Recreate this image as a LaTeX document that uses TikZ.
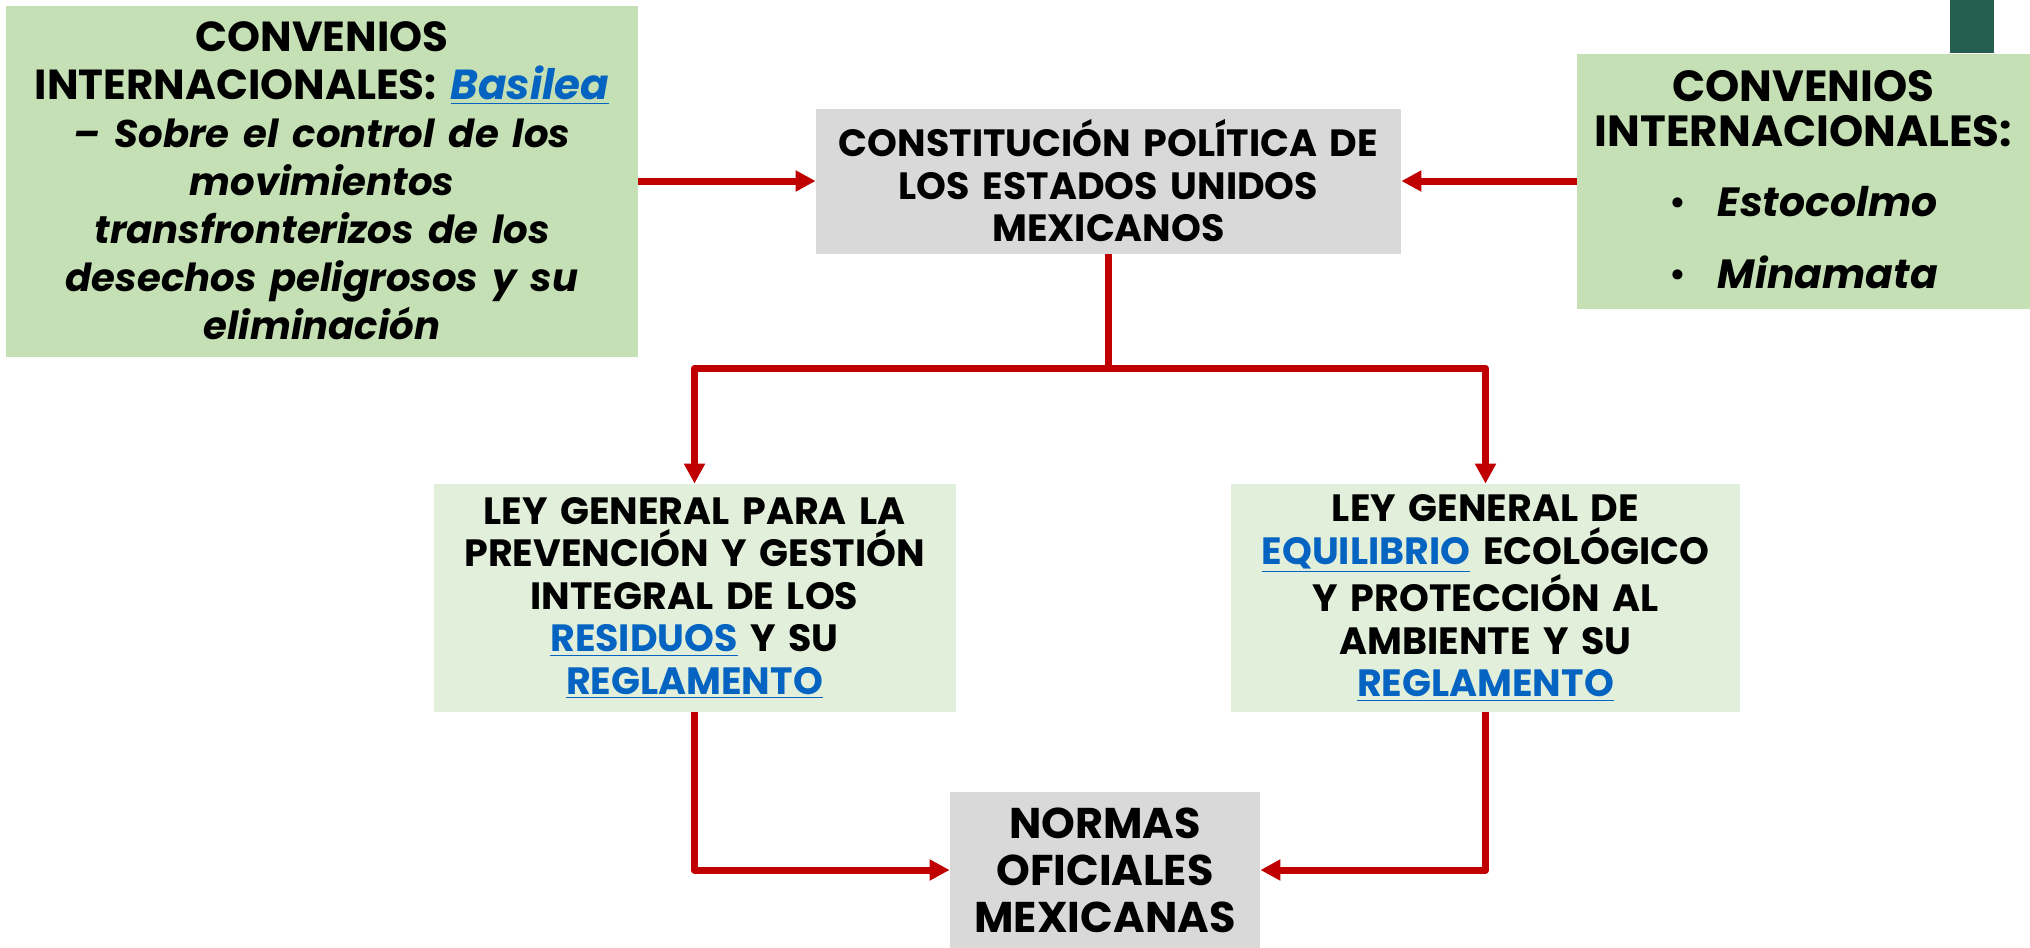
\documentclass[tikz,border=0pt]{standalone}
\usepackage{fontspec}
\setmainfont{Poppins}
\usetikzlibrary{arrows.meta}
\definecolor{verde}{HTML}{C5E0B4}
\definecolor{verdeclaro}{HTML}{E2EFDA}
\definecolor{gris}{HTML}{D9D9D9}
\definecolor{rojo}{HTML}{C00000}
\definecolor{enlace}{HTML}{0563C1}
\definecolor{verdeoscuro}{HTML}{245E4F}
\newcommand{\liga}[1]{\textcolor{enlace}{\underline{#1}}}
\begin{document}
\begin{tikzpicture}[
			x=0.5pt, y=-0.5pt,
			caja/.style={inner sep=0pt, align=center},
			verdecaja/.style={caja, fill=verde},
			claracaja/.style={caja, fill=verdeclaro, text width=255pt, minimum height=114pt,
					font=\bfseries\fontsize{19}{21.25}\selectfont},
			griscaja/.style={caja, fill=gris},
			flecha/.style={draw=rojo, line width=3.5pt, line join=round,
					-{Triangle[length=10pt,width=10pt]}}
		]
		\useasboundingbox (0,0) rectangle (2030,948);
		\fill[verdeoscuro] (1950,0) rectangle (1994,53);
		% fila superior
		\node[verdecaja, text width=316pt, minimum height=175.5pt,
			font=\bfseries\fontsize{21}{24}\selectfont] (basilea) at (322,181)
		{CONVENIOS\\ INTERNACIONALES: \textit{\liga{Basilea}}\\
			\itshape\fontsize{19.3}{24}\selectfont -- Sobre el control de los\\ movimientos\\
			transfronterizos de los\\ desechos peligrosos y su\\ eliminación};
		\node[griscaja, text width=292.5pt, minimum height=72.5pt,
			font=\bfseries\fontsize{19}{21.25}\selectfont] (constitucion) at (1108.5,181)
		{CONSTITUCIÓN POLÍTICA DE\\ LOS ESTADOS UNIDOS\\ MEXICANOS};
		\node[verdecaja, text width=226.5pt, minimum height=127.5pt,
			font=\bfseries\fontsize{21.8}{22.5}\selectfont] (estocolmo) at (1803.5,181)
		{\rule{0pt}{20.5pt}CONVENIOS\\ INTERNACIONALES:\\[18pt]
			\fontsize{20.4}{22.5}\selectfont
			\begin{tabular}{@{}l@{\hspace{16pt}}l@{}}
				\mdseries\textbullet & \textit{Estocolmo}\\[13pt]
				\mdseries\textbullet & \textit{Minamata}
			\end{tabular}};
		% leyes
		\node[claracaja, text width=261pt] (lgpgir) at (694.5,598)
		{LEY GENERAL PARA LA\\ PREVENCIÓN Y GESTIÓN\\ INTEGRAL DE LOS\\
			\liga{RESIDUOS} Y SU\\ \liga{REGLAMENTO}};
		\node[claracaja, text width=254.5pt] (lgeepa) at (1485.5,598)
		{LEY GENERAL DE\\ \liga{EQUILIBRIO} ECOLÓGICO\\ Y PROTECCIÓN AL\\
			AMBIENTE Y SU\\ \liga{REGLAMENTO}};
		% normas
		\node[griscaja, text width=155pt, minimum height=78pt,
			font=\bfseries\fontsize{21.5}{23.5}\selectfont] (nom) at (1105,870)
		{NORMAS\\ OFICIALES\\ MEXICANAS};
		\coordinate (reparto) at (1108.5,368);
		% conexiones
		\draw[flecha] (basilea.east) -- (constitucion.west);
		\draw[flecha] (estocolmo.west) -- (constitucion.east);
		\draw[flecha] (constitucion.south) -- (reparto) -| (lgpgir.north);
		\draw[flecha] (reparto) -| (lgeepa.north);
		\draw[flecha] (lgpgir.south) |- (nom.west);
		\draw[flecha] (lgeepa.south) |- (nom.east);
	\end{tikzpicture}
\end{document}
